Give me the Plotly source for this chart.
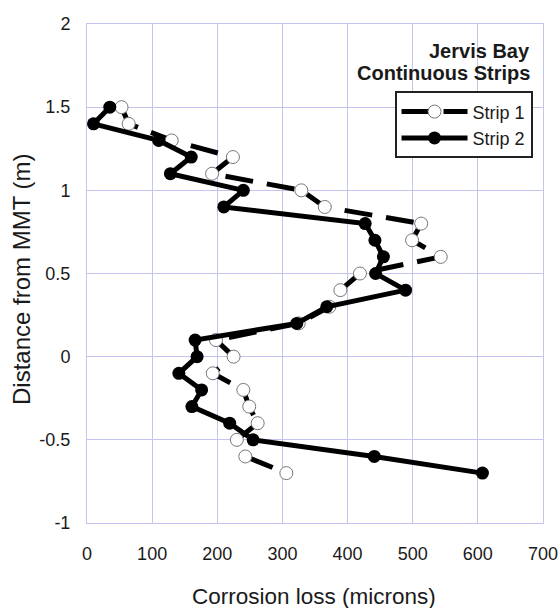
import plotly.graph_objects as go

# Data
distance_m = [1.5, 1.4, 1.3, 1.2, 1.1, 1.0, 0.9, 0.8, 0.7, 0.6, 0.5, 0.4,
              0.3, 0.2, 0.1, 0.0, -0.1, -0.2, -0.3, -0.4, -0.5, -0.6, -0.7]
strip1_loss = [53, 64, 130, 224, 192, 329, 365, 513, 499, 543, 419, 389,
               372, 325, 198, 225, 193, 240, 249, 262, 230, 243, 306]
strip2_loss = [35, 10, 110, 160, 128, 240, 210, 427, 442, 455, 443, 489,
               368, 322, 166, 169, 141, 176, 161, 219, 255, 441, 607]

x_ticks = [0, 100, 200, 300, 400, 500, 600, 700]
x_ticktext = ["0", "100", "200", "300", "400", "500", "600", "700"]
y_ticks = [-1, -0.5, 0, 0.5, 1, 1.5, 2]
y_ticktext = ["-1", "-0.5", "0", "0.5", "1", "1.5", "2"]

FONT = "Liberation Sans, Arial, Helvetica, sans-serif"
GRID = "#c4c4f0"

fig = go.Figure()
fig.add_trace(go.Scatter(
    x=strip1_loss, y=distance_m, name="Strip 1", mode="lines+markers",
    line=dict(color="black", width=5, dash="28px,14px"),
    marker=dict(symbol="circle", size=13, color="white",
                line=dict(color="#777777", width=1)),
))
fig.add_trace(go.Scatter(
    x=strip2_loss, y=distance_m, name="Strip 2", mode="lines+markers",
    line=dict(color="black", width=5),
    marker=dict(symbol="circle", size=13, color="black"),
))

fig.update_layout(
    width=560, height=608,
    margin=dict(l=87, r=17, t=24, b=85),
    paper_bgcolor="white", plot_bgcolor="white",
    font=dict(family=FONT, color="#1a1a1a", size=18),
    showlegend=True,
    legend=dict(
        x=0.977, y=0.865, xanchor="right", yanchor="top",
        bgcolor="white", bordercolor="#222222", borderwidth=2,
        font=dict(family=FONT, size=18, color="#1a1a1a"),
        itemwidth=66, tracegroupgap=0,
    ),
    xaxis=dict(
        range=[0, 700], tickmode="array", tickvals=x_ticks, ticktext=x_ticktext,
        showgrid=True, gridcolor=GRID, gridwidth=1,
        zeroline=False, showline=True, linecolor=GRID, linewidth=1, mirror=True,
        ticks="", ticklabelstandoff=14, automargin=False,
        tickfont=dict(family=FONT, size=18, color="#1a1a1a"),
    ),
    yaxis=dict(
        range=[-1, 2], tickmode="array", tickvals=y_ticks, ticktext=y_ticktext,
        showgrid=True, gridcolor=GRID, gridwidth=1,
        zeroline=False, showline=True, linecolor=GRID, linewidth=1, mirror=True,
        ticks="", ticklabelstandoff=12, automargin=False,
        tickfont=dict(family=FONT, size=18, color="#1a1a1a"),
    ),
    annotations=[
        dict(text="Corrosion loss (microns)", xref="paper", yref="paper",
             x=0.498, y=-0.147, xanchor="center", yanchor="middle",
             showarrow=False, font=dict(family=FONT, size=22.5, color="#1a1a1a")),
        dict(text="Distance from MMT (m)", xref="paper", yref="paper",
             x=-0.1425, y=0.489, xanchor="center", yanchor="middle",
             textangle=-90, showarrow=False,
             font=dict(family=FONT, size=24, color="#1a1a1a")),
        dict(text="<b>Jervis Bay</b>", xref="paper", yref="paper",
             x=0.975, y=0.9465, xanchor="right", yanchor="middle",
             showarrow=False, font=dict(family=FONT, size=20, color="#1a1a1a")),
        dict(text="<b>Continuous Strips</b>", xref="paper", yref="paper",
             x=0.975, y=0.9018, xanchor="right", yanchor="middle",
             showarrow=False, font=dict(family=FONT, size=20, color="#1a1a1a")),
    ],
)

fig.write_html("out.html")
